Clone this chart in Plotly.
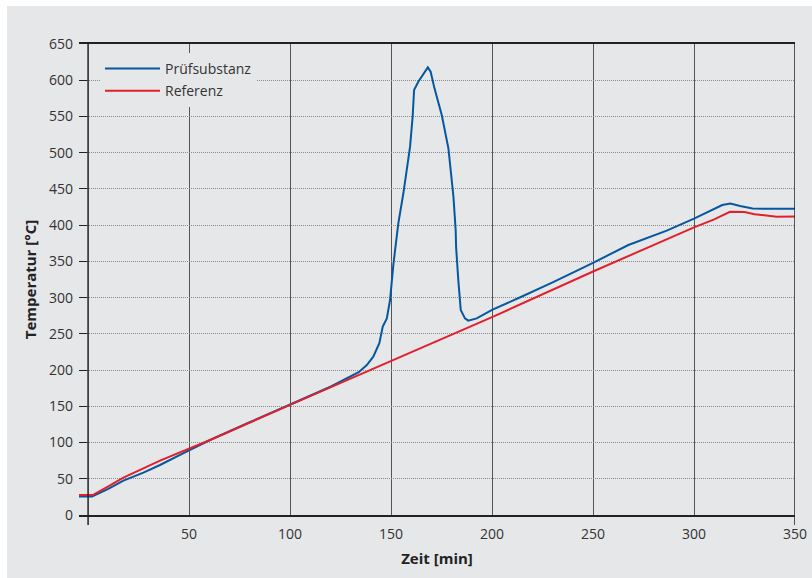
import plotly.graph_objects as go

# Prüfsubstanz (blue)
blue_x = [-4.5, 2, 10, 17.5, 27.4, 35.6, 48, 60.4, 80, 100, 120, 134, 138, 141.2, 144.2, 145.9,
          147.9, 149.5, 151.2, 153.6, 156.1, 159.4, 160.7, 161.4, 163.5, 168.2, 169.6, 171.5,
          175.1, 178.4, 180.9, 182, 182.2, 183.3, 184.5, 186.6, 188.2, 192.4, 197.4, 200, 214,
          230, 250, 267.5, 286.5, 300, 314, 318, 322.8, 329, 340, 350]
blue_y = [25.5, 25.5, 36, 47.4, 58.4, 69, 86.5, 103.5, 128, 153, 177, 197, 207, 218.5, 237, 260,
          271.4, 296.7, 347, 402.6, 444, 508, 550, 586.5, 598, 617.8, 611.8, 588.8,
          552, 506, 439, 393, 370, 324, 283, 271.4, 268.2, 271.4, 278.3, 283, 300.5,
          321, 348, 372.6, 392.4, 409, 427.8, 430, 426.4, 423, 422.5, 422.5]

# Referenz (red)
red_x = [-4.5, 2.3, 10, 17.5, 35.6, 48.9, 60.4, 100, 154.5, 200, 250, 300, 310, 317.8, 325,
         330, 341, 350]
red_y = [27.6, 27.6, 39.6, 51.5, 75, 90.6, 103.5, 152, 218.5, 273, 336, 397, 408, 418.5, 418,
         415, 411.7, 412]

x_ticks = [50, 100, 150, 200, 250, 300, 350]
y_ticks = [0, 50, 100, 150, 200, 250, 300, 350, 400, 450, 500, 550, 600, 650]

BG = "#e6e7e9"
FONT = "Open Sans"

fig = go.Figure()
fig.add_trace(go.Scatter(x=blue_x, y=blue_y, mode="lines", name="Prüfsubstanz",
                         legendgroup="a", line=dict(color="#0757a0", width=2)))
fig.add_trace(go.Scatter(x=red_x, y=red_y, mode="lines", name="Referenz",
                         legendgroup="b", line=dict(color="#e2202c", width=2)))

W, H = 812, 578
L, R, T, B = 79, 17, 44, 63
pw, ph = W - L - R, H - T - B

shapes = [
    # grey panel (the picture has a thin white strip at the top and left)
    dict(type="rect", xref="paper", yref="paper", layer="below",
         x0=(7 - L) / pw, x1=(W - L) / pw, y0=-B / ph, y1=1 + (T - 6) / ph,
         fillcolor=BG, line=dict(width=0)),
    dict(type="line", xref="x", yref="paper", x0=0, x1=0, y0=-10 / ph, y1=1,
         line=dict(color="#222", width=1.5)),
    dict(type="line", xref="x", yref="paper", x0=350, x1=350, y0=-10 / ph, y1=1 + 2 / ph,
         line=dict(color="#222", width=1.5)),
]

fig.update_layout(
    width=W, height=H, autosize=False,
    margin=dict(l=L, r=R, t=T, b=B, autoexpand=False),
    paper_bgcolor="white",
    plot_bgcolor="rgba(0,0,0,0)",
    font=dict(family=FONT, size=14, color="#333"),
    shapes=shapes,
    showlegend=True,
    legend=dict(x=21 / pw, y=1 - 9 / ph, xanchor="left", yanchor="top",
                bgcolor=BG, borderwidth=0, itemwidth=55, tracegroupgap=1,
                font=dict(family=FONT, size=14, color="#333")),
    xaxis=dict(range=[-4.5, 350], tickvals=x_ticks, ticktext=[str(v) for v in x_ticks],
               automargin=False,
               showgrid=True, gridcolor="#555", gridwidth=1, zeroline=False,
               showline=True, mirror=True, linecolor="#222", linewidth=1.5,
               ticks="", ticklabelstandoff=5,
               title=dict(text="<b>Zeit [min]</b>", standoff=12,
                          font=dict(family=FONT, size=15, color="#222"))),
    yaxis=dict(range=[0, 650], tickvals=y_ticks, ticktext=[str(v) for v in y_ticks],
               automargin=False,
               showgrid=True, gridcolor="#8a8a8a", gridwidth=1, griddash="1px,1px",
               zeroline=False, showline=False,
               ticks="inside", ticklen=8, tickcolor="#222", tickwidth=1.3,
               ticklabelstandoff=5,
               title=dict(text="<b>Temperatur [°C]</b>", standoff=8,
                          font=dict(family=FONT, size=15, color="#222"))),
)

fig.write_html("out.html", config={"displayModeBar": False},
               post_script="document.body.style.margin='0';document.body.style.overflow='hidden';")
